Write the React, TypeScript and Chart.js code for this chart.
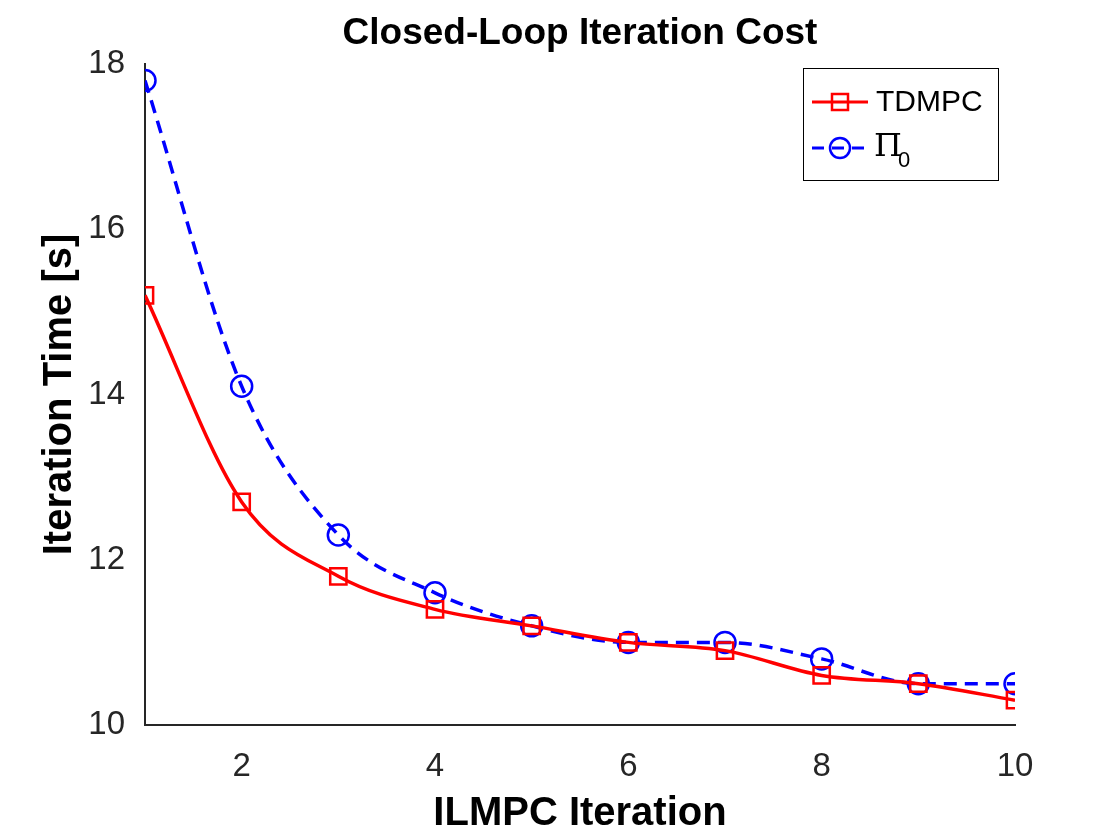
import { useEffect, useRef } from 'react';
import { Chart, registerables, Plugin } from 'chart.js';

Chart.register(...registerables);

const iterations = [1, 2, 3, 4, 5, 6, 7, 8, 9, 10];
const tdmpc = [15.2, 12.7, 11.8, 11.4, 11.2, 11.0, 10.9, 10.6, 10.5, 10.3];
const pi0 = [17.8, 14.1, 12.3, 11.6, 11.2, 11.0, 11.0, 10.8, 10.5, 10.5];
const xTicks = [2, 4, 6, 8, 10];
const yTicks = [10, 12, 14, 16, 18];

const FONT = '"Liberation Sans", Arial, Helvetica, sans-serif';

const decorations: Plugin = {
  id: 'decorations',
  afterDraw(chart) {
    const { ctx, chartArea } = chart;
    ctx.save();
    ctx.fillStyle = '#000';
    ctx.textAlign = 'center';
    ctx.textBaseline = 'middle';
    ctx.font = `bold 37px ${FONT}`;
    ctx.fillText('Closed-Loop Iteration Cost', (chartArea.left + chartArea.right) / 2, 34);
    ctx.font = `bold 40px ${FONT}`;
    ctx.fillText('ILMPC Iteration', (chartArea.left + chartArea.right) / 2, 814);
    ctx.save();
    ctx.translate(60, (chartArea.top + chartArea.bottom) / 2);
    ctx.rotate(-Math.PI / 2);
    ctx.fillText('Iteration Time [s]', 0, 0);
    ctx.restore();

    // legend
    const lx = 803, ly = 68, lw = 195, lh = 112;
    ctx.fillStyle = '#fff';
    ctx.fillRect(lx, ly, lw, lh);
    ctx.strokeStyle = '#000';
    ctx.lineWidth = 1;
    ctx.strokeRect(lx + 0.5, ly + 0.5, lw, lh);

    const rows = [
      { y: 102, color: '#ff0000', dash: [] as number[], marker: 'rect' },
      { y: 148, color: '#0000ff', dash: [12, 8], marker: 'circle' },
    ];
    rows.forEach((r) => {
      ctx.strokeStyle = r.color;
      ctx.lineWidth = 3;
      ctx.setLineDash(r.dash);
      ctx.beginPath();
      ctx.moveTo(812, r.y);
      ctx.lineTo(868, r.y);
      ctx.stroke();
      ctx.setLineDash([]);
      ctx.lineWidth = 2.5;
      ctx.beginPath();
      if (r.marker === 'rect') ctx.rect(832, r.y - 8, 16, 16);
      else ctx.arc(840, r.y, 10, 0, Math.PI * 2);
      ctx.stroke();
    });
    ctx.fillStyle = '#000';
    ctx.textAlign = 'left';
    ctx.font = `30px ${FONT}`;
    ctx.fillText('TDMPC', 876, 103);
    ctx.font = `32px "DejaVu Serif", "Liberation Serif", serif`;
    ctx.fillText('Π', 874, 148);
    ctx.font = `22px ${FONT}`;
    ctx.fillText('0', 898, 161);
    ctx.restore();
  },
};

export default function App() {
  const canvasRef = useRef<HTMLCanvasElement>(null);
  const chartRef = useRef<Chart | null>(null);

  useEffect(() => {
    document.body.style.margin = '0';
    if (!canvasRef.current) return;
    if (chartRef.current) chartRef.current.destroy();

    chartRef.current = new Chart(canvasRef.current, {
      type: 'line',
      data: {
        datasets: [
          {
            label: 'TDMPC',
            data: iterations.map((x, i) => ({ x, y: tdmpc[i] })),
            borderColor: '#ff0000',
            backgroundColor: 'rgba(0,0,0,0)',
            borderWidth: 3.5,
            cubicInterpolationMode: 'monotone',
            pointStyle: 'rect',
            pointRadius: 11.5,
            pointBorderWidth: 2.5,
            pointBorderColor: '#ff0000',
            pointBackgroundColor: 'rgba(0,0,0,0)',
          },
          {
            label: 'Π0',
            data: iterations.map((x, i) => ({ x, y: pi0[i] })),
            borderColor: '#0000ff',
            backgroundColor: 'rgba(0,0,0,0)',
            borderWidth: 3.5,
            borderDash: [13, 8],
            cubicInterpolationMode: 'monotone',
            pointStyle: 'circle',
            pointRadius: 10.5,
            pointBorderWidth: 2.5,
            pointBorderColor: '#0000ff',
            pointBackgroundColor: 'rgba(0,0,0,0)',
          },
        ],
      },
      options: {
        responsive: false,
        animation: false,
        layout: { padding: { top: 64, right: 105, left: 0, bottom: 0 } },
        plugins: { legend: { display: false }, tooltip: { enabled: false } },
        scales: {
          x: {
            type: 'linear',
            min: 1,
            max: 10,
            afterBuildTicks: (s) => { s.ticks = xTicks.map((v) => ({ value: v })); },
            afterFit: (s) => { s.height = 115; },
            grid: { display: false },
            border: { display: true, color: '#262626', width: 2 },
            ticks: { color: '#262626', font: { family: FONT, size: 33 }, padding: 14 },
          },
          y: {
            min: 10,
            max: 18,
            afterBuildTicks: (s) => { s.ticks = yTicks.map((v) => ({ value: v })); },
            afterFit: (s) => { s.width = 145; },
            grid: { display: false },
            border: { display: true, color: '#262626', width: 2 },
            ticks: { color: '#262626', font: { family: FONT, size: 33 }, padding: 12 },
          },
        },
      },
      plugins: [decorations],
    });

    return () => {
      if (chartRef.current) chartRef.current.destroy();
      chartRef.current = null;
    };
  }, []);

  return (
    <div style={{ width: 1120, height: 840, background: '#fff' }}>
      <canvas ref={canvasRef} width={1120} height={840}></canvas>
    </div>
  );
}
